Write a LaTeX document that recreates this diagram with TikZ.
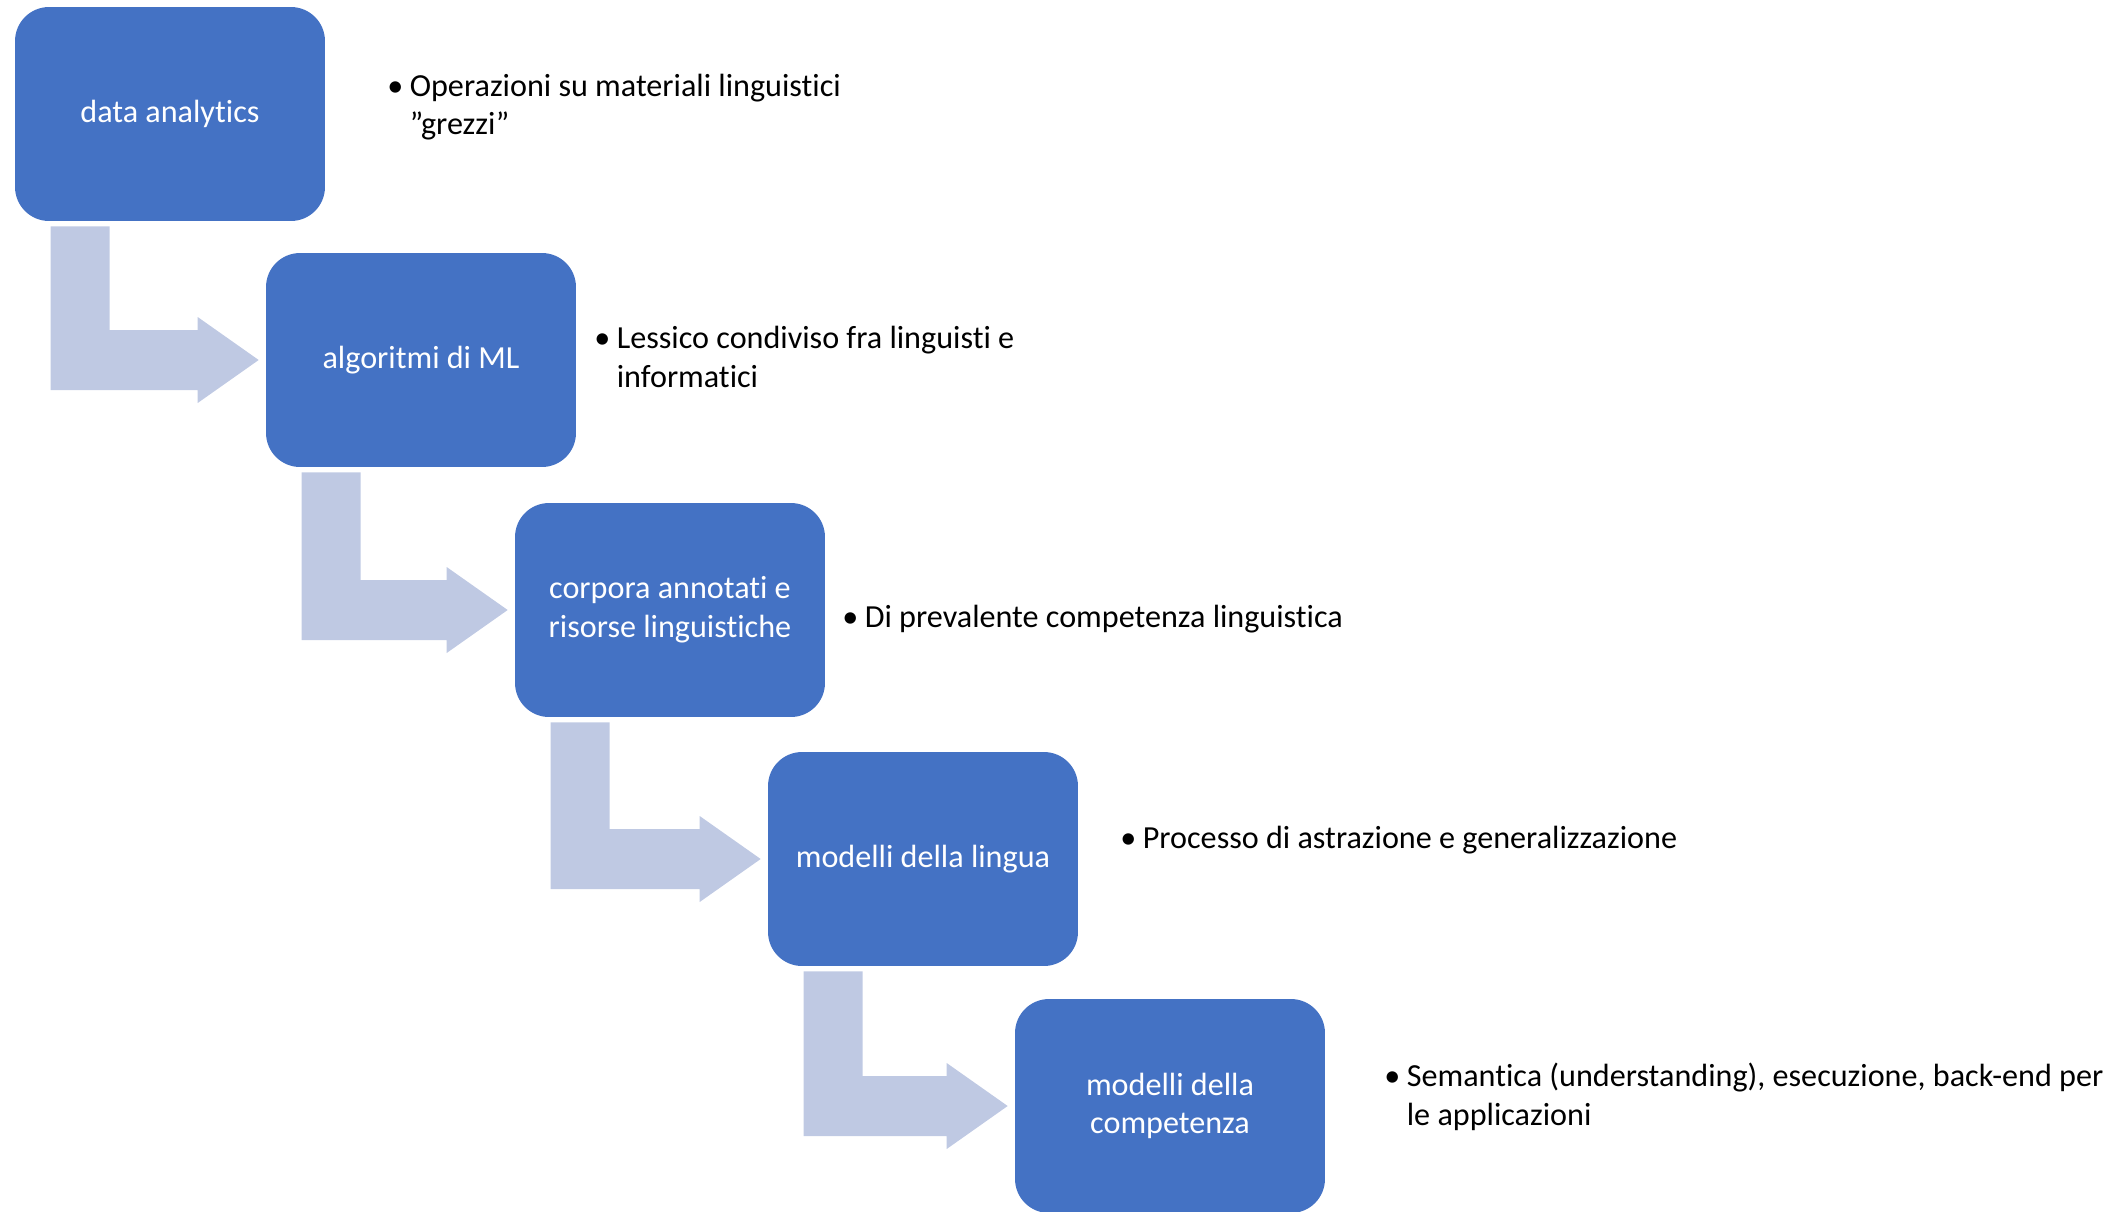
\documentclass[tikz,border=0pt]{standalone}
\usepackage{fontspec}
\setmainfont{Carlito}[Ligatures=NoCommon]
\usetikzlibrary{calc}

\definecolor{boxblue}{HTML}{4472C4}
\definecolor{arrowblue}{RGB}{191,201,227}

\tikzset{
	stage/.style={fill=boxblue, rounded corners=0.68cm, minimum width=6.2cm, minimum height=4.28cm,
		inner sep=0pt, text=white, align=center, font=\fontsize{18.3}{22}\selectfont},
	note/.style={anchor=west, inner sep=0pt, align=left, font=\fontsize{18.3}{22}\selectfont},
	flow/.style={fill=arrowblue}
}

\newcommand{\bul}{\makebox[0.45cm][l]{•}}
\newcommand{\ind}{\hspace*{0.45cm}}

% bent arrow from the bottom of #1 into the left side of #2
\newcommand{\bentarrow}[2]{%
	\fill[flow] let \p1=($(#1.south west)+(36,5)$), \p2=($(#2.west)+(-7,0)$) in
		(\x1,\y1) -- (\x1+1.18cm,\y1) -- (\x1+1.18cm,\y2+0.6cm) -- (\x2-1.22cm,\y2+0.6cm)
		-- (\x2-1.22cm,\y2+0.86cm) -- (\x2,\y2) -- (\x2-1.22cm,\y2-0.86cm)
		-- (\x2-1.22cm,\y2-0.6cm) -- (\x1,\y2-0.6cm) -- cycle;
}

\begin{document}
\begin{tikzpicture}[x=0.02cm, y=-0.02cm]

	\useasboundingbox (0,0) rectangle (2124,1211);

	\node[stage] (analytics) at (170,114) {data analytics};
	\node[stage] (algoritmi) at (421,360) {algoritmi di ML};
	\node[stage] (corpora) at (670,610) {corpora annotati e\\risorse linguistiche};
	\node[stage] (lingua) at (923,859) {modelli della lingua};
	\node[stage] (competenza) at (1170,1106) {modelli della\\competenza};

	\bentarrow{analytics}{algoritmi}
	\bentarrow{algoritmi}{corpora}
	\bentarrow{corpora}{lingua}
	\bentarrow{lingua}{competenza}

	\node[note] (noteanalytics) at (387,107) {\bul Operazioni su materiali linguistici\\\ind ”grezzi”};
	\node[note] (notealgoritmi) at (594,357) {\bul Lessico condiviso fra linguisti e\\\ind informatici};
	\node[note] (notecorpora) at (842,619) {\bul Di prevalente competenza linguistica};
	\node[note] (notelingua) at (1120,840) {\bul Processo di astrazione e generalizzazione};
	\node[note] (notecompetenza) at (1384,1097) {\bul Semantica (understanding), esecuzione, back-end per\\\ind le applicazioni};

\end{tikzpicture}
\end{document}
